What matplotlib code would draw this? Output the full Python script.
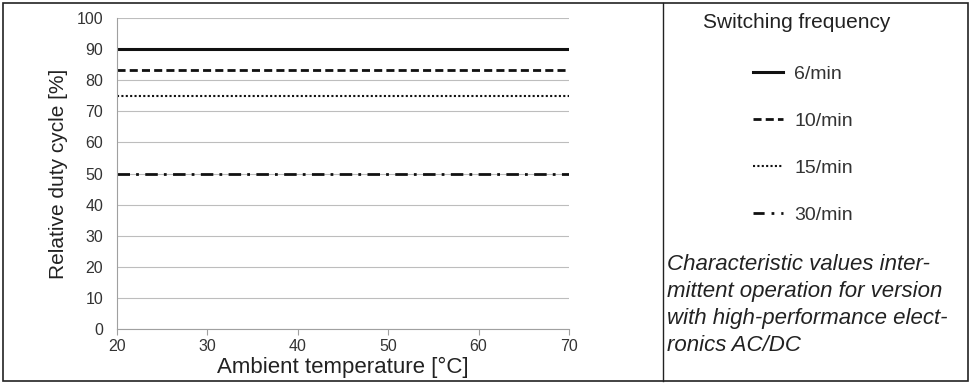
import matplotlib
matplotlib.use("Agg")
import matplotlib.pyplot as plt
from matplotlib.patches import Rectangle
from matplotlib.lines import Line2D

plt.rcParams['font.family'] = ['Liberation Sans', 'DejaVu Sans']

# data
temps = [20, 70]
labels = ['6/min', '10/min', '15/min', '30/min']
duty = [90, 83.3, 75, 50]
styles = ['-', (0, (2.9, 1.5)), (0, (1, 1.1)), (0, (4.5, 2.2, 1, 2.3))]
widths = [2.2, 2.0, 1.5, 2.0]
x_ticks = [20, 30, 40, 50, 60, 70]
y_ticks = list(range(0, 101, 10))
note = ("Characteristic values inter-\nmittent operation for version\n"
        "with high-performance elect-\nronics AC/DC")

fig = plt.figure(figsize=(9.72, 3.84), dpi=100)
ax = fig.add_axes([117 / 972, 1 - 329 / 384, 452 / 972, 311 / 384])

for lab, d, ls, lw in zip(labels, duty, styles, widths):
    ax.plot(temps, [d, d], color='#111111', linestyle=ls, linewidth=lw, label=lab)

ax.set_xlim(20, 70)
ax.set_ylim(0, 100)
ax.set_xticks(x_ticks)
ax.set_yticks(y_ticks)
ax.grid(axis='y', color='#bdbdbd', linewidth=0.8)
ax.set_axisbelow(True)
for s in ['top', 'right']:
    ax.spines[s].set_visible(False)
for s in ['left', 'bottom']:
    ax.spines[s].set_color('#a0a0a0')
ax.tick_params(axis='y', length=0, pad=10, labelsize=11.5, labelcolor='#333333')
ax.tick_params(axis='x', length=4, color='#a0a0a0', direction='out', pad=3,
               labelsize=11.5, labelcolor='#333333')
ax.set_xlabel('Ambient temperature [°C]', fontsize=16, color='#222222', labelpad=2)
ax.set_ylabel('Relative duty cycle [%]', fontsize=15, color='#222222', labelpad=6)

# frame and divider
fig.add_artist(Rectangle((3 / 972, 3 / 384), 965 / 972, 378 / 384, transform=fig.transFigure,
                         fill=False, edgecolor='#222222', linewidth=1.2))
fig.add_artist(Line2D([663 / 972, 663 / 972], [3 / 384, 381 / 384], transform=fig.transFigure,
                      color='#222222', linewidth=1.0))

# legend proxies (30/min drawn as dash-dot-dot in the key)
key_styles = ['-', (0, (2.9, 1.5)), (0, (1, 1.1)), (0, (4, 2.5, 1, 2.5, 1, 2.5))]
handles = [Line2D([], [], color='#111111', linestyle=ls, linewidth=lw)
           for ls, lw in zip(key_styles, widths)]

fig.text(797 / 972, 1 - 22 / 384, 'Switching frequency', ha='center', va='center',
         fontsize=15, color='#222222')
fig.legend(handles, labels, loc='upper left', bbox_to_anchor=(739 / 972, 1 - 52 / 384),
           frameon=False, fontsize=14, handlelength=1.55, handletextpad=0.6,
           labelspacing=1.5, labelcolor='#333333', borderpad=0.2)
fig.text(667 / 972, 1 - 254 / 384, note, ha='left', va='top', fontsize=16,
         style='italic', color='#222222', linespacing=1.37)

fig.savefig('out.png', dpi=100)
